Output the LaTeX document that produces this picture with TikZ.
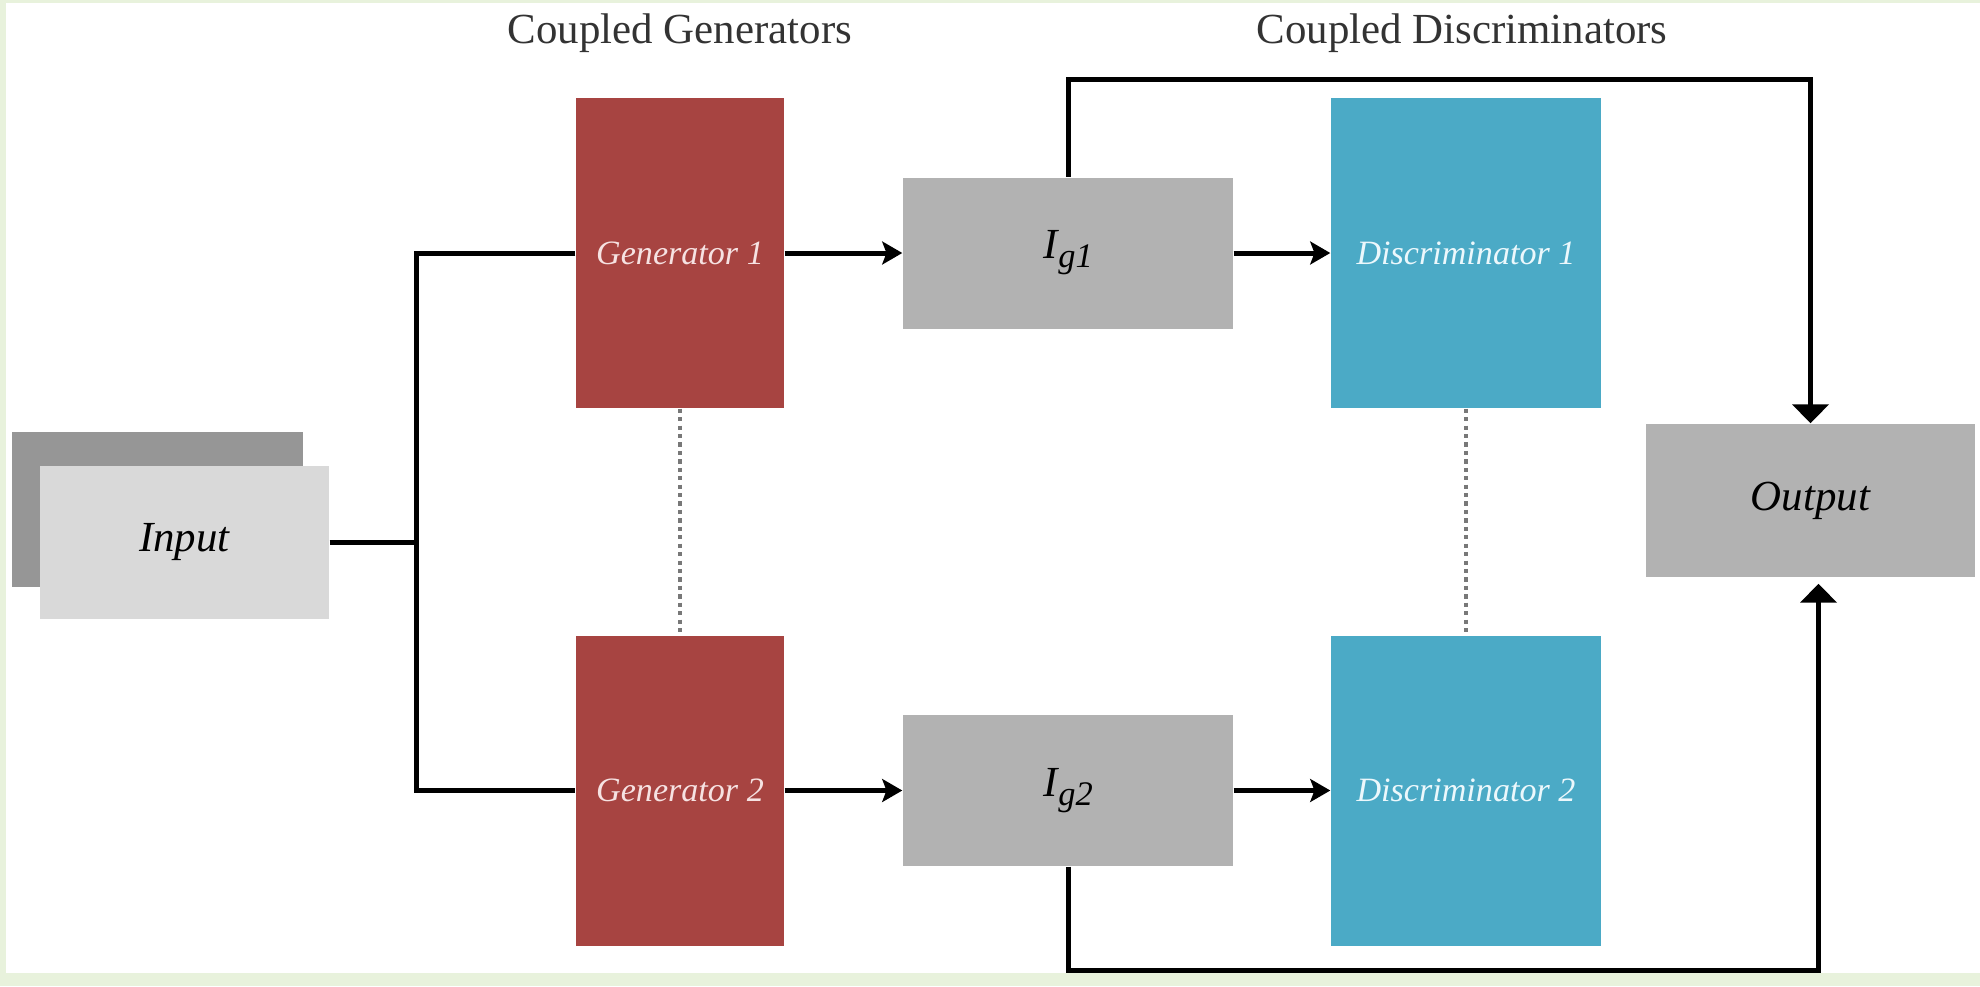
\documentclass[tikz,border=0pt]{standalone}
\usepackage{fontspec}
\setmainfont{Liberation Serif}
\usepackage{tikz}
\usetikzlibrary{positioning}
\usetikzlibrary{arrows.meta}
\usepackage{xcolor}

\definecolor{framegreen}{RGB}{232,242,220}
\definecolor{inputback}{RGB}{150,150,150}
\definecolor{inputfront}{RGB}{217,217,217}
\definecolor{midgray}{RGB}{178,178,178}
\definecolor{genred}{RGB}{167,68,65}
\definecolor{discblue}{RGB}{75,170,198}
\definecolor{gentext}{RGB}{246,226,226}
\definecolor{disctext}{RGB}{236,248,252}
\definecolor{dotgray}{RGB}{120,120,120}

\begin{document}
\begin{tikzpicture}[
  box/.style={draw=none, inner sep=0pt, font=\fontsize{12.2}{14}\selectfont\itshape},
  genbox/.style={box, fill=genred, text=gentext, minimum width=2.08cm, minimum height=3.10cm, font=\fontsize{9.7}{12}\selectfont\itshape},
  discbox/.style={box, fill=discblue, text=disctext, minimum width=2.70cm, minimum height=3.10cm, font=\fontsize{9.7}{12}\selectfont\itshape},
  imgbox/.style={box, fill=midgray, minimum width=3.30cm, minimum height=1.51cm},
  title/.style={anchor=base, text=black!80, font=\fontsize{12.2}{14}\selectfont},
  wire/.style={line width=0.05cm, line join=miter},
  smallarrow/.style={wire, -{Stealth[length=5.7pt, width=6.5pt, inset=1.2pt]}},
  bigarrow/.style={wire, -{Triangle[length=5.4pt, width=10.2pt]}},
  couple/.style={dotgray, line width=1.3pt, dash pattern=on 1.2pt off 1.2pt}
]
\begin{scope}[xshift=0cm, yshift=0cm]

%%%%%%%%%% Frame %%%%%%%%
{
\fill[framegreen] (0,0) rectangle (19.8,9.86);
\fill[white] (0.06,0.13) rectangle (19.8,9.83);
}

%%%%%%%%%% Titles %%%%%%%%
{
\node[title] (ttlgen) at (6.80,9.43) {Coupled Generators};
\node[title] (ttldisc) at (14.62,9.43) {Coupled Discriminators};
}

%%%%%%%%%%%%     Input   %%%%%%%%%%%%
{
\fill[inputback] (0.12,3.99) rectangle (3.03,5.54);
\node[box, fill=inputfront, minimum width=2.89cm, minimum height=1.53cm] (input) at (1.845,4.435) {Input};
\coordinate (bustop) at (4.16,7.33);
\coordinate (busbot) at (4.16,1.955);
}

%%%%%%%%%%%%     Generators   %%%%%%%%%%%%
{
\node[genbox] (gen1) at (6.80,7.33) {Generator 1};
\node[genbox] (gen2) at (6.80,1.955) {Generator 2};

\node[imgbox] (ig1) at (10.68,7.33) {I\kern0.3pt\raisebox{-2.6pt}{\fontsize{9.8}{10}\selectfont g1}};
\node[imgbox] (ig2) at (10.68,1.955) {I\kern0.3pt\raisebox{-2.6pt}{\fontsize{9.8}{10}\selectfont g2}};
}

%%%%%%%%%%%%     Discriminators   %%%%%%%%%%%%
{
\node[discbox] (disc1) at (14.66,7.33) {Discriminator 1};
\node[discbox] (disc2) at (14.66,1.955) {Discriminator 2};

\node[box, fill=midgray, minimum width=3.29cm, minimum height=1.53cm] (output) at (18.105,4.855) {Output};
}

%%%%%%%%%%%%     Connections   %%%%%%%%%%%%
{
\draw[wire] (input.east) -- (input.east -| bustop);
\draw[wire] (gen1.west) -- (bustop) -- (busbot) -- (gen2.west);

\draw[smallarrow] (gen1.east) -- (ig1.west);
\draw[smallarrow] (gen2.east) -- (ig2.west);
\draw[smallarrow] (ig1.east) -- (disc1.west);
\draw[smallarrow] (ig2.east) -- (disc2.west);

\draw[couple] (gen1.south) -- (gen2.north);
\draw[couple] (disc1.south) -- (disc2.north);

\draw[bigarrow] (ig1.north) -- ++(0,0.97) -| (output.north);
\draw[bigarrow, shorten >=0.06cm] (ig2.south) -- ++(0,-1.04) -| ([xshift=0.08cm]output.south);
}

\end{scope}
\end{tikzpicture}
\end{document}
